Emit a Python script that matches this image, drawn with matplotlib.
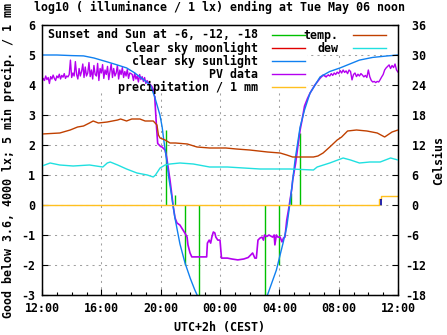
import numpy as np
import matplotlib
matplotlib.use("Agg")
import matplotlib.pyplot as plt
from matplotlib.patches import Rectangle

plt.rcParams['font.family'] = ['DejaVu Sans Mono']
plt.rcParams['font.weight'] = 'bold'
plt.rcParams['lines.scale_dashes'] = False

# ---------------- data (hours after 12:00 noon) ----------------
x_tick_hours = [0, 4, 8, 12, 16, 20, 24]
x_tick_labels = ["12:00", "16:00", "20:00", "00:00", "04:00", "08:00", "12:00"]
y_left_ticks = [-3, -2, -1, 0, 1, 2, 3, 4, 5, 6]
y_right_ticks = [-18, -12, -6, 0, 6, 12, 18, 24, 30, 36]

# clear sky sunlight, log10 lx
sun_t = [0, 1, 2, 2.8, 3.5, 4.4, 5.0, 5.7, 6.2, 6.6, 7.0, 7.3, 7.6, 7.95, 8.1, 8.2,
         8.4, 8.55, 8.75, 8.95, 9.3, 9.64, 10.0, 10.3, 10.55, 11.0,
         14.6, 15.0, 15.2, 15.8, 16.25, 16.5, 16.7, 16.9, 17.06, 17.4, 17.7, 18.07,
         18.75, 19.4, 20.1, 21.4, 22.3, 23.3, 24]
sun_v = [5.0, 5.0, 4.98, 4.97, 4.9, 4.77, 4.68, 4.57, 4.42, 4.27, 4.12, 4.0, 3.6, 3.0, 2.6, 2.2,
         1.5, 0.9, 0.27, -0.4, -1.3, -1.93, -2.45, -2.83, -3.1, -3.6,
         -3.9, -3.3, -3.0, -2.17, -1.27, -0.73, 0.0, 0.83, 1.5, 2.6, 3.17, 3.73,
         4.27, 4.45, 4.57, 4.83, 4.92, 4.97, 5.0]

# PV data, afternoon at 5 min steps from 12:00
pv_day1_v = [4.10, 4.22, 4.15, 4.30, 4.18, 4.25, 4.05, 4.28, 4.20, 4.33, 4.22, 4.15,
             4.30, 4.24, 4.36, 4.20, 4.32, 4.26, 4.38, 4.22, 4.30, 4.27, 4.35,
             4.83, 4.25, 4.40, 4.30, 4.78, 4.35, 4.20, 4.55, 4.30, 4.45, 4.70, 4.25,
             4.60, 4.30, 4.40, 4.75, 4.28, 4.50, 4.20, 4.65, 4.35, 4.30, 4.72, 4.15,
             4.55, 4.40, 4.68, 4.22, 4.50, 4.35, 4.62, 4.18, 4.45, 4.70, 4.25, 4.55,
             4.30, 4.40, 4.65, 4.20, 4.50, 4.35, 4.58, 4.25, 4.45, 4.30, 4.52, 4.22,
             4.40, 4.38, 4.35, 4.15, 4.40, 4.20, 4.30, 4.10, 4.35, 4.18, 4.28, 4.12,
             4.25, 4.05, 4.15, 4.08, 4.05, 4.00, 3.95, 3.85]
# PV data, dusk / night / dawn
pv_night_t = [7.6, 7.72, 7.8, 8.0, 8.1, 8.3, 8.4, 8.5, 8.63, 8.77, 8.83, 8.97, 9.1, 9.3,
              9.5, 9.65, 9.78, 9.84, 9.98, 10.1, 10.6, 11.1, 11.15, 11.27, 11.37, 11.45,
              11.55, 11.65, 11.72, 11.85, 12.0, 12.1, 12.5, 12.8, 13.2, 13.6, 13.9, 14.0,
              14.2, 14.35, 14.45, 14.56, 14.7, 14.83, 14.93, 15.0, 15.15, 15.3, 15.55,
              15.65, 15.7, 15.8, 15.9, 16.05, 16.18, 16.28, 16.38, 16.5, 16.65, 16.85,
              16.9, 17.1, 17.26, 17.4, 17.53, 17.7, 17.9, 18.07, 18.4, 18.75, 18.95, 19.15]
pv_night_v = [3.6, 2.6, 2.05, 1.95, 1.93, 1.83, 1.6, 1.27, 0.83, 0.27, 0.0, -0.43, -0.6, -0.67,
              -0.83, -0.95, -1.07, -1.33, -1.6, -1.73, -1.73, -1.73, -1.27, -1.17, -1.27, -1.07,
              -0.9, -0.93, -1.07, -1.17, -1.17, -1.77, -1.77, -1.8, -1.83, -1.8, -1.75, -1.7,
              -1.6, -1.77, -1.77, -1.17, -1.1, -1.07, -1.17, -1.0, -1.05, -1.0, -1.07,
              -1.0, -1.33, -1.0, -1.07, -1.07, -1.23, -1.1, -1.07, -0.5, -0.07, 0.57,
              0.83, 1.4, 2.0, 2.5, 2.83, 3.3, 3.55, 3.73, 4.0, 4.23, 4.33, 4.28]
# PV data, morning at 6 min steps from 07:18
pv_day2_v = [4.33, 4.30, 4.38, 4.32, 4.40, 4.35, 4.43, 4.38, 4.48, 4.40, 4.50, 4.42,
             4.47, 4.38, 4.50, 4.45, 4.17, 4.35, 4.40, 4.28, 4.36, 4.30, 4.38, 4.33,
             4.27, 4.32, 4.25, 4.50, 4.27, 4.15, 4.10, 4.12, 4.08, 4.12, 4.10, 4.18,
             4.27, 4.35, 4.50, 4.57, 4.62, 4.67, 4.55, 4.65, 4.58, 4.70, 4.50, 4.43]

# temperature, Celsius
temp_t = [0, 1.2, 1.9, 2.4, 2.8, 3.2, 3.45, 3.8, 4.4, 5.1, 5.3, 5.7, 6.05, 6.6, 6.95, 7.5,
          7.75, 7.85, 7.96, 8.3, 8.63, 9.0, 9.8, 10.45, 11.3, 12.4, 13.1, 14.0, 15.2,
          16.05, 16.5, 16.9, 18.3, 18.6, 18.95, 19.4, 19.9, 20.2, 20.6, 21.2, 21.9,
          22.6, 23.1, 23.6, 24]
temp_c = [14.2, 14.4, 15.0, 15.6, 15.8, 16.4, 16.8, 16.4, 16.6, 17.0, 17.2, 16.8, 17.2,
          17.2, 16.8, 16.8, 16.0, 14.0, 13.4, 13.0, 12.4, 12.4, 12.2, 11.6, 11.4, 11.4,
          11.2, 11.0, 10.6, 10.4, 10.0, 9.6, 9.6, 9.8, 10.4, 11.6, 13.0, 13.6, 14.8,
          15.0, 14.8, 14.4, 13.6, 14.6, 15.0]
# dew point, Celsius
dew_t = [0, 0.55, 1.2, 2.1, 3.2, 4.1, 4.4, 4.6, 5.1, 5.7, 6.4, 7.1, 7.5, 7.65, 7.96, 8.3,
         8.63, 9.3, 10.2, 11.3, 12.5, 13.6, 14.7, 16.7, 18.3, 18.55, 19.4, 20.3, 20.8,
         21.4, 22.1, 22.8, 23.5, 24]
dew_c = [7.8, 8.4, 8.0, 7.8, 8.0, 7.6, 8.4, 8.6, 8.0, 7.2, 6.4, 6.0, 5.6, 6.0, 7.4, 8.0,
         8.2, 8.4, 8.2, 7.6, 7.6, 7.4, 7.2, 7.2, 7.0, 7.6, 8.4, 9.4, 9.0, 8.4, 8.6, 8.6,
         9.4, 9.0]

# precipitation per 5 min / 1 mm
precip_t = [0, 22.72, 22.86, 24]
precip_v = [0, 0.2, 0.3, 0.3]
rain_t = [22.86]
rain_v = [0.2]

# sunset / sunrise and sun at -6, -12, -18 degrees
event_t = [8.36, 8.97, 9.64, 10.58, 15.03, 15.98, 16.79, 17.39]
event_v = [2.5, 0.33, -2.0, -3.5, -3.5, -2.0, 0.4, 2.4]

# ---------------- figure ----------------
W, H = 447, 335
fig = plt.figure(figsize=(W / 100, H / 100), dpi=100)
L, R, T, B = 42, 398, 25, 295
ax = fig.add_axes([L / W, 1 - B / H, (R - L) / W, (B - T) / H])
FS = 8.4

c_green = '#00c000'
c_red = '#e00000'
c_blue = '#1080f0'
c_purple = '#b400f0'
c_yellow = '#ffc020'
c_temp = '#c04000'
c_dew = '#20e0e0'

ax.set_xlim(0, 24)
ax.set_ylim(-3, 6)
ax.set_axisbelow(True)
ax.grid(True, which='major', color='#a0a0a0', linestyle=(0, (1.5, 3)), linewidth=0.75)

# sun events
ax.vlines(event_t, 0, event_v, color=c_green, lw=1.0, zorder=2)
# PV
PVLW = 1.0
ax.plot(np.arange(len(pv_day1_v)) / 12, pv_day1_v, color=c_purple, lw=PVLW, zorder=2.1)
ax.plot(pv_night_t, pv_night_v, color=c_purple, lw=1.2, zorder=2.1)
ax.plot(19.3 + np.arange(len(pv_day2_v)) / 10, pv_day2_v, color=c_purple, lw=PVLW, zorder=2.1)
ax.plot([7.5, 7.6], [pv_day1_v[-1], pv_night_v[0]], color=c_purple, lw=PVLW, zorder=2.1)
ax.plot([19.15, 19.3], [pv_night_v[-1], pv_day2_v[0]], color=c_purple, lw=PVLW, zorder=2.1)
# clear sky sunlight
ax.plot(sun_t, sun_v, color=c_blue, lw=1.0, zorder=2.2)
# precipitation
ax.step(precip_t, precip_v, where='post', color=c_yellow, lw=1.0, zorder=2.3)
ax.vlines(rain_t, 0, rain_v, color='#0000a0', lw=1.2, zorder=2.4)

ax.set_xticks(x_tick_hours)
ax.set_xticklabels(x_tick_labels)
ax.set_xticks(np.arange(0, 25, 1), minor=True)
ax.set_yticks(y_left_ticks)
ax.set_yticklabels([str(v) for v in y_left_ticks])
ax.tick_params(axis='both', which='major', direction='in', length=4, width=0.8,
               labelsize=FS, pad=5)
ax.tick_params(axis='x', which='minor', direction='in', length=2.5, width=0.8)
ax.tick_params(axis='x', which='both', top=False)
for s in ax.spines.values():
    s.set_linewidth(1.0)

ax2 = ax.twinx()
ax2.set_ylim(-18, 36)
ax2.plot(temp_t, temp_c, color=c_temp, lw=1.0)
ax2.plot(dew_t, dew_c, color=c_dew, lw=1.0)
ax2.set_yticks(y_right_ticks)
ax2.set_yticklabels([("%d" % v) if v < 0 else (" %d" % v) for v in y_right_ticks])
ax2.tick_params(axis='y', direction='in', length=4, width=0.8, labelsize=FS, pad=5)
ax2.set_xlim(0, 24)

# ---------------- key (gnuplot style, opaque) ----------------
def axx(px):
    return (px - L) / (R - L)

def axy(py):
    return (B - py) / (B - T)

ax.add_patch(Rectangle((axx(43), axy(93)), axx(307) - axx(43), axy(26) - axy(93),
                       transform=ax.transAxes, facecolor='white', edgecolor='none', zorder=1))
ax.add_patch(Rectangle((axx(307), axy(53)), axx(391) - axx(307), axy(26) - axy(53),
                       transform=ax.transAxes, facecolor='white', edgecolor='none', zorder=1))

col1 = [("Sunset and Sun at -6, -12, -18", c_green),
        ("clear sky moonlight", c_red),
        ("clear sky sunlight", c_blue),
        ("PV data", c_purple),
        ("precipitation / 1 mm", c_yellow)]
col2 = [("temp.", c_temp), ("dew", c_dew)]
rows = [35, 48, 61, 74, 87]
for (lab, col), ry in zip(col1, rows):
    ax.text(axx(258), axy(ry), lab, transform=ax.transAxes, ha='right', va='center',
            fontsize=FS, zorder=5)
    ax.plot([axx(272), axx(305)], [axy(ry), axy(ry)], transform=ax.transAxes,
            color=col, lw=1.0, zorder=5, clip_on=False)
for (lab, col), ry in zip(col2, rows):
    ax.text(axx(338), axy(ry), lab, transform=ax.transAxes, ha='right', va='center',
            fontsize=FS, zorder=5)
    ax.plot([axx(353), axx(386)], [axy(ry), axy(ry)], transform=ax.transAxes,
            color=col, lw=1.0, zorder=5, clip_on=False)

# ---------------- titles / labels ----------------
fig.text(220 / W, 1 - 7 / H, "log10 ( illuminance / 1 lx) ending at Tue May 06 noon",
         ha='center', va='center', fontsize=FS)
fig.text(220 / W, 1 - 327 / H, "UTC+2h (CEST)", ha='center', va='center', fontsize=FS)
fig.text(8 / W, 1 - 160 / H, "Good below 3.6, 4000 lx; 5 min precip. / 1 mm",
         rotation=90, ha='center', va='center', fontsize=FS)
fig.text(439 / W, 1 - 160 / H, "Celsius", rotation=90, ha='center', va='center', fontsize=FS)

fig.savefig("out.png", dpi=100, facecolor='white')
